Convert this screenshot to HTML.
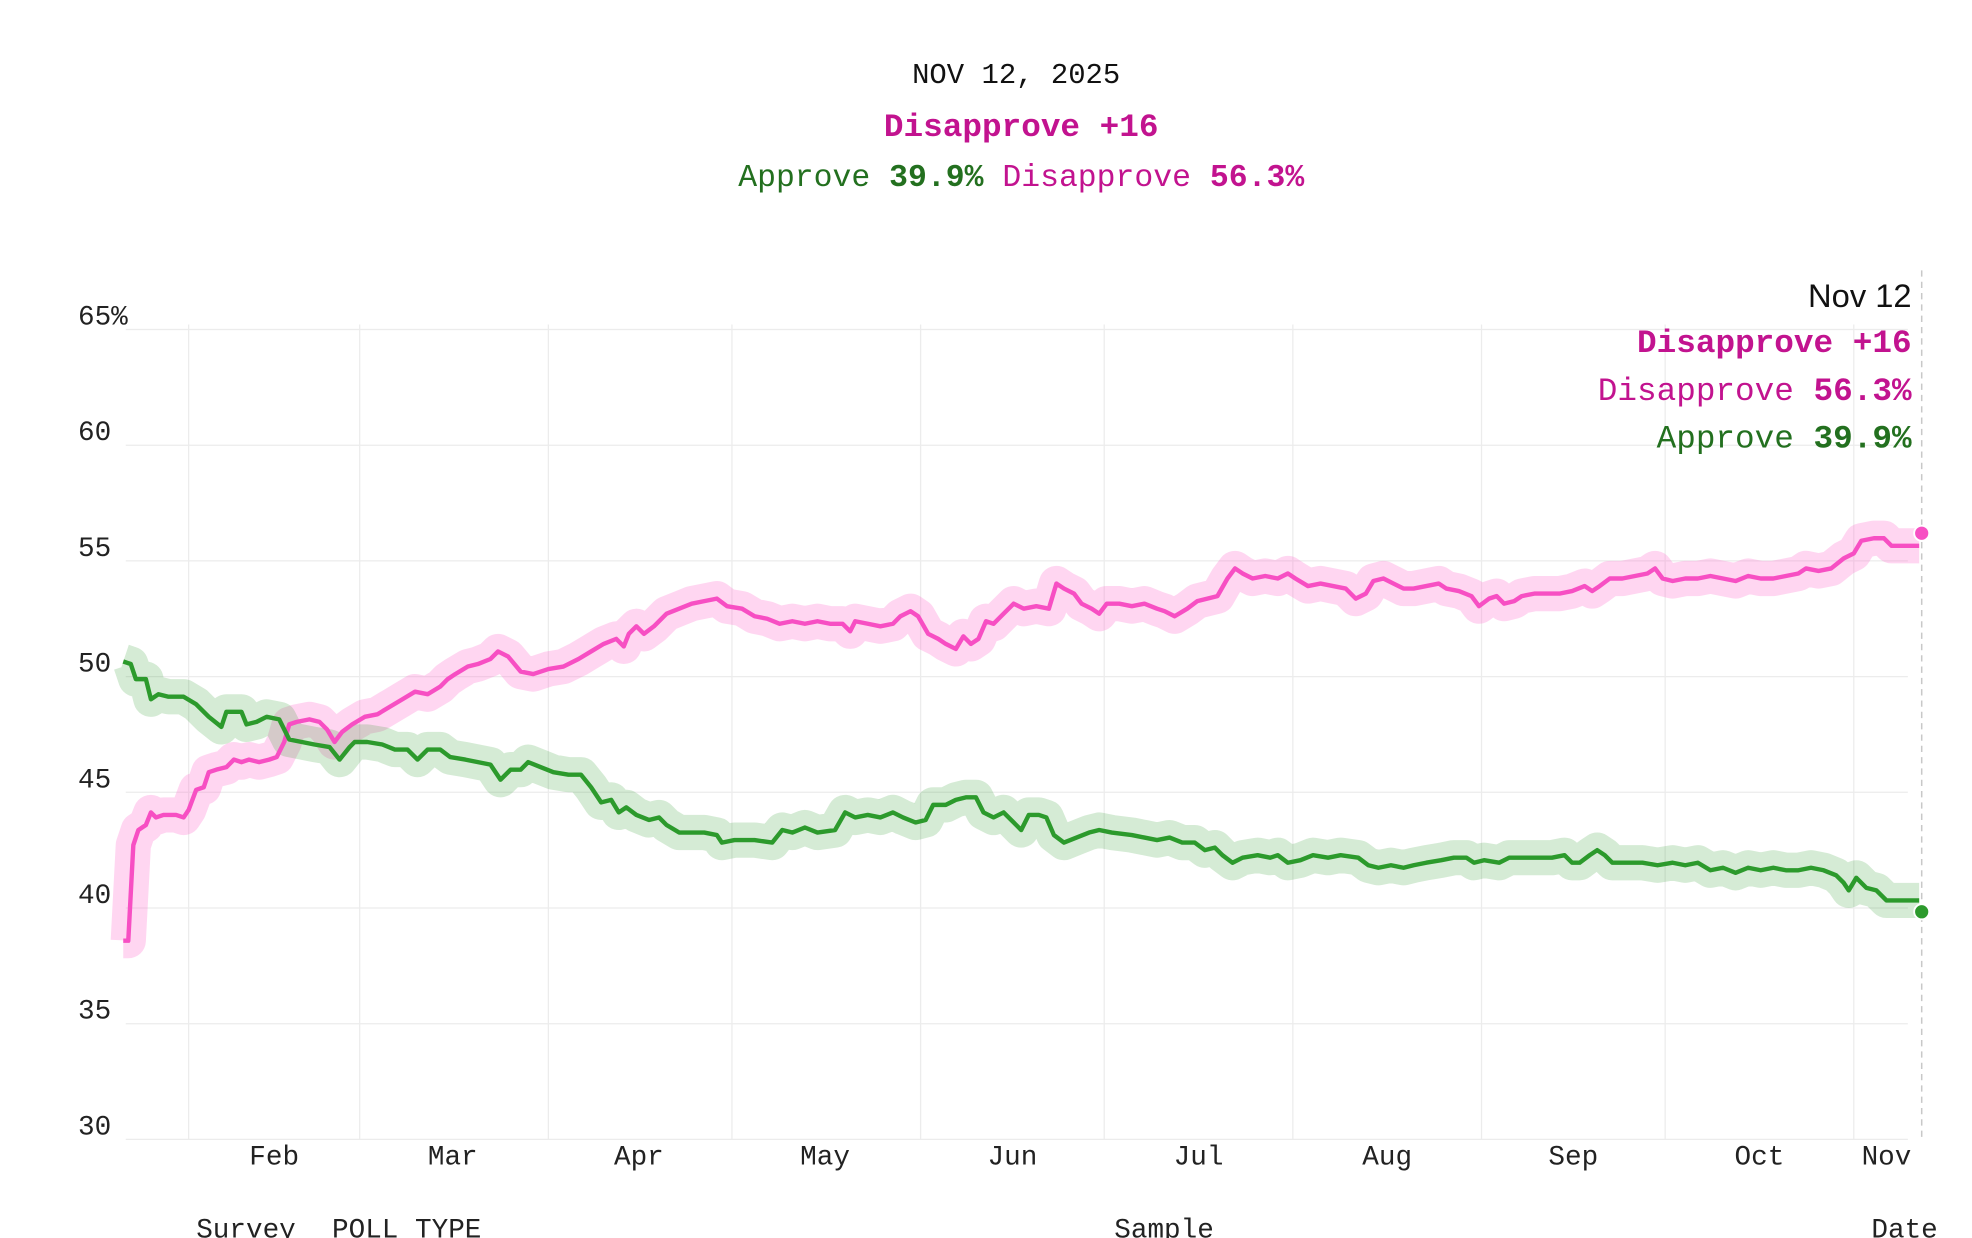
<!DOCTYPE html>
<html><head><meta charset="utf-8"><style>
html,body{margin:0;padding:0;background:#fff;width:1972px;height:1238px;overflow:hidden}
svg{display:block}
.m{font-family:"Liberation Mono",monospace}
.s{font-family:"Liberation Sans",sans-serif}
</style></head><body>
<svg width="1972" height="1238" viewBox="0 0 1568 984.4" preserveAspectRatio="none">
<g class="m" text-anchor="middle">
<text x="808" y="66" font-size="23" fill="#111">NOV 12, 2025</text>
<text x="812" y="108" font-size="26" font-weight="bold" fill="#c2138f">Disapprove +16</text>
<text x="812" y="148" font-size="25"><tspan fill="#23701f">Approve </tspan><tspan fill="#23701f" font-weight="bold">39.9%</tspan><tspan fill="#c2138f"> Disapprove </tspan><tspan fill="#c2138f" font-weight="bold">56.3%</tspan></text>
</g>
<g stroke="#ececec" stroke-width="1">
<line x1="100" y1="262" x2="1517" y2="262"/><line x1="100" y1="354" x2="1517" y2="354"/><line x1="100" y1="446" x2="1517" y2="446"/><line x1="100" y1="538" x2="1517" y2="538"/><line x1="100" y1="630" x2="1517" y2="630"/><line x1="100" y1="722" x2="1517" y2="722"/><line x1="100" y1="814" x2="1517" y2="814"/><line x1="100" y1="906" x2="1517" y2="906"/>
<line x1="150" y1="258" x2="150" y2="906"/><line x1="286" y1="258" x2="286" y2="906"/><line x1="436" y1="258" x2="436" y2="906"/><line x1="582" y1="258" x2="582" y2="906"/><line x1="732" y1="258" x2="732" y2="906"/><line x1="878" y1="258" x2="878" y2="906"/><line x1="1028" y1="258" x2="1028" y2="906"/><line x1="1178" y1="258" x2="1178" y2="906"/><line x1="1324" y1="258" x2="1324" y2="906"/><line x1="1474" y1="258" x2="1474" y2="906"/>
</g>
<line x1="1528" y1="215" x2="1528" y2="906" stroke="#c8c8c8" stroke-width="1.2" stroke-dasharray="5,4"/>
<g class="m" font-size="22" fill="#222">
<text x="62" y="258">65%</text><text x="62" y="350">60</text><text x="62" y="442">55</text><text x="62" y="534">50</text><text x="62" y="626">45</text><text x="62" y="718">40</text><text x="62" y="810">35</text><text x="62" y="902">30</text>
</g>
<g class="m" font-size="22" fill="#222" text-anchor="middle">
<text x="218" y="926">Feb</text><text x="360" y="926">Mar</text><text x="508" y="926">Apr</text><text x="656" y="926">May</text><text x="805" y="926">Jun</text><text x="953" y="926">Jul</text><text x="1103" y="926">Aug</text><text x="1251" y="926">Sep</text><text x="1399" y="926">Oct</text><text x="1500" y="926">Nov</text>
</g>
<g class="m" font-size="22" fill="#222">
<text x="156" y="984">Survey</text><text x="264" y="984">POLL TYPE</text><text x="886" y="984">Sample</text><text x="1488" y="984">Date</text>
</g>
<g fill="none" stroke-linejoin="round" stroke-linecap="butt">
<polyline stroke="#ff5fc8" stroke-opacity="0.26" stroke-width="28" points="98,748 102,748 106,672 110,660 116,656 120,646 124,650 130,648 140,648 146,650 150,644 156,628 162,626 166,614 172,612 180,610 186,604 192,606 198,604 206,606 214,604 220,602 226,590 230,576 236,574 246,572 254,574 260,580 266,590 272,582 280,576 290,570 300,568 310,562 320,556 330,550 340,552 350,546 356,540 362,536 372,530 380,528 390,524 396,518 404,522 414,534 424,536 436,532 448,530 460,524 470,518 480,512 490,508 496,514 500,504 506,498 512,504 520,498 530,488 540,484 550,480 560,478 570,476 578,482 590,484 600,490 610,492 620,496 630,494 640,496 650,494 660,496 670,496 676,502 680,494 690,496 700,498 710,496 716,490 724,486 730,490 738,504 746,508 752,512 760,516 766,506 772,512 778,508 784,494 790,496 798,488 806,480 814,484 824,482 834,484 840,464 846,468 854,472 860,480 868,484 874,488 880,480 890,480 900,482 910,480 920,484 926,486 934,490 944,484 952,478 960,476 968,474 976,460 982,452 988,456 996,460 1006,458 1016,460 1024,456 1030,460 1040,466 1050,464 1060,466 1070,468 1078,476 1086,472 1092,462 1100,460 1108,464 1116,468 1124,468 1134,466 1144,464 1150,468 1160,470 1170,474 1176,482 1184,476 1190,474 1196,480 1204,478 1210,474 1220,472 1230,472 1240,472 1250,470 1260,466 1266,470 1272,466 1280,460 1290,460 1300,458 1310,456 1316,452 1322,460 1330,462 1340,460 1350,460 1360,458 1370,460 1380,462 1390,458 1400,460 1410,460 1420,458 1430,456 1436,452 1446,454 1456,452 1466,444 1474,440 1480,430 1490,428 1498,428 1504,434 1512,434 1520,434 1526,434"/>
<polyline stroke="#2e9a2e" stroke-opacity="0.2" stroke-width="28" points="98,526 104,528 108,540 116,540 120,556 126,552 134,554 146,554 156,560 166,570 176,578 180,566 192,566 196,576 204,574 212,570 222,572 230,588 240,590 250,592 262,594 270,604 278,594 282,590 292,590 304,592 314,596 324,596 332,604 340,596 350,596 358,602 370,604 380,606 390,608 398,620 406,612 414,612 420,606 430,610 440,614 452,616 462,616 470,626 478,638 486,636 492,646 498,642 506,648 516,652 524,650 530,656 540,662 560,662 570,664 574,670 584,668 600,668 614,670 622,660 630,662 640,658 650,662 664,660 672,646 680,650 690,648 700,650 710,646 718,650 728,654 736,652 742,640 752,640 760,636 768,634 776,634 782,646 790,650 798,646 806,654 812,660 818,648 826,648 832,650 838,664 846,670 856,666 866,662 874,660 884,662 900,664 910,666 920,668 930,666 940,670 950,670 958,676 966,674 972,680 980,686 988,682 1000,680 1010,682 1016,680 1024,686 1034,684 1044,680 1056,682 1066,680 1080,682 1088,688 1096,690 1106,688 1116,690 1124,688 1134,686 1146,684 1156,682 1166,682 1172,686 1180,684 1192,686 1200,682 1210,682 1220,682 1234,682 1244,680 1250,686 1256,686 1264,680 1270,676 1276,680 1282,686 1294,686 1306,686 1318,688 1330,686 1340,688 1350,686 1360,692 1370,690 1380,694 1390,690 1400,692 1410,690 1420,692 1430,692 1440,690 1450,692 1460,696 1466,702 1470,708 1476,698 1484,706 1492,708 1500,716 1510,716 1520,716 1526,716"/>
<polyline stroke="#f74fc3" stroke-width="3.5" points="98,748 102,748 106,672 110,660 116,656 120,646 124,650 130,648 140,648 146,650 150,644 156,628 162,626 166,614 172,612 180,610 186,604 192,606 198,604 206,606 214,604 220,602 226,590 230,576 236,574 246,572 254,574 260,580 266,590 272,582 280,576 290,570 300,568 310,562 320,556 330,550 340,552 350,546 356,540 362,536 372,530 380,528 390,524 396,518 404,522 414,534 424,536 436,532 448,530 460,524 470,518 480,512 490,508 496,514 500,504 506,498 512,504 520,498 530,488 540,484 550,480 560,478 570,476 578,482 590,484 600,490 610,492 620,496 630,494 640,496 650,494 660,496 670,496 676,502 680,494 690,496 700,498 710,496 716,490 724,486 730,490 738,504 746,508 752,512 760,516 766,506 772,512 778,508 784,494 790,496 798,488 806,480 814,484 824,482 834,484 840,464 846,468 854,472 860,480 868,484 874,488 880,480 890,480 900,482 910,480 920,484 926,486 934,490 944,484 952,478 960,476 968,474 976,460 982,452 988,456 996,460 1006,458 1016,460 1024,456 1030,460 1040,466 1050,464 1060,466 1070,468 1078,476 1086,472 1092,462 1100,460 1108,464 1116,468 1124,468 1134,466 1144,464 1150,468 1160,470 1170,474 1176,482 1184,476 1190,474 1196,480 1204,478 1210,474 1220,472 1230,472 1240,472 1250,470 1260,466 1266,470 1272,466 1280,460 1290,460 1300,458 1310,456 1316,452 1322,460 1330,462 1340,460 1350,460 1360,458 1370,460 1380,462 1390,458 1400,460 1410,460 1420,458 1430,456 1436,452 1446,454 1456,452 1466,444 1474,440 1480,430 1490,428 1498,428 1504,434 1512,434 1520,434 1526,434"/>
<polyline stroke="#2c9a2c" stroke-width="3.5" points="98,526 104,528 108,540 116,540 120,556 126,552 134,554 146,554 156,560 166,570 176,578 180,566 192,566 196,576 204,574 212,570 222,572 230,588 240,590 250,592 262,594 270,604 278,594 282,590 292,590 304,592 314,596 324,596 332,604 340,596 350,596 358,602 370,604 380,606 390,608 398,620 406,612 414,612 420,606 430,610 440,614 452,616 462,616 470,626 478,638 486,636 492,646 498,642 506,648 516,652 524,650 530,656 540,662 560,662 570,664 574,670 584,668 600,668 614,670 622,660 630,662 640,658 650,662 664,660 672,646 680,650 690,648 700,650 710,646 718,650 728,654 736,652 742,640 752,640 760,636 768,634 776,634 782,646 790,650 798,646 806,654 812,660 818,648 826,648 832,650 838,664 846,670 856,666 866,662 874,660 884,662 900,664 910,666 920,668 930,666 940,670 950,670 958,676 966,674 972,680 980,686 988,682 1000,680 1010,682 1016,680 1024,686 1034,684 1044,680 1056,682 1066,680 1080,682 1088,688 1096,690 1106,688 1116,690 1124,688 1134,686 1146,684 1156,682 1166,682 1172,686 1180,684 1192,686 1200,682 1210,682 1220,682 1234,682 1244,680 1250,686 1256,686 1264,680 1270,676 1276,680 1282,686 1294,686 1306,686 1318,688 1330,686 1340,688 1350,686 1360,692 1370,690 1380,694 1390,690 1400,692 1410,690 1420,692 1430,692 1440,690 1450,692 1460,696 1466,702 1470,708 1476,698 1484,706 1492,708 1500,716 1510,716 1520,716 1526,716"/>
</g>
<circle cx="1528" cy="424" r="6" fill="#f74fc3" stroke="#fff" stroke-width="1.5"/>
<circle cx="1528" cy="725" r="6" fill="#2c9a2c" stroke="#fff" stroke-width="1.5"/>
<g text-anchor="end">
<text class="s" x="1520" y="244" font-size="26" fill="#111">Nov 12</text>
<text class="m" x="1520" y="280" font-size="26" font-weight="bold" fill="#c2138f">Disapprove +16</text>
<text class="m" x="1520" y="318" font-size="26"><tspan fill="#c2138f">Disapprove </tspan><tspan fill="#c2138f" font-weight="bold">56.3%</tspan></text>
<text class="m" x="1520" y="356" font-size="26"><tspan fill="#23701f">Approve </tspan><tspan fill="#23701f" font-weight="bold">39.9%</tspan></text>
</g>
</svg>
</body></html>
